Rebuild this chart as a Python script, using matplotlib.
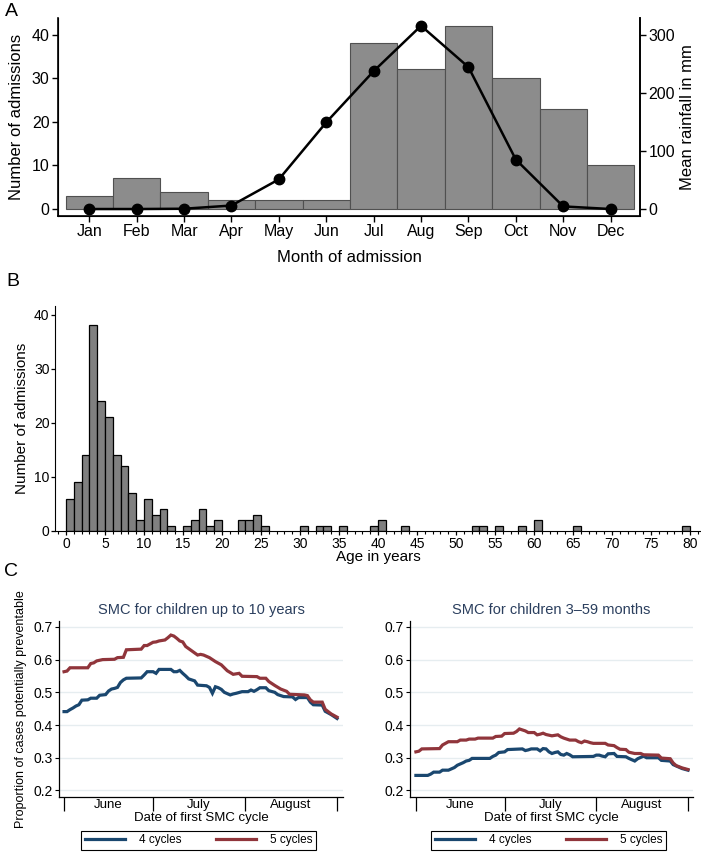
import matplotlib
matplotlib.use("Agg")
import matplotlib.pyplot as plt
from matplotlib.lines import Line2D
from matplotlib.ticker import MultipleLocator, FixedLocator

plt.rcParams['font.family'] = ['Liberation Sans', 'DejaVu Sans']

# ---------------- data ----------------
months = ["Jan", "Feb", "Mar", "Apr", "May", "Jun", "Jul", "Aug", "Sep", "Oct", "Nov", "Dec"]
admissions_by_month = [3, 7, 4, 2, 2, 2, 38, 32, 42, 30, 23, 10]
rainfall_mm = [0, 0, 0.5, 6, 51, 149, 237, 315, 244, 85, 4.5, 0]

age_bins = [0, 1, 2, 3, 4, 5, 6, 7, 8, 9, 10, 11, 12, 13, 15, 16, 17, 18, 19,
            22, 23, 24, 25, 30, 32, 33, 35, 39, 40, 43, 52, 53, 55, 58, 60, 65, 79]
age_counts = [6, 9, 14, 38, 24, 21, 14, 12, 7, 2, 6, 3, 4, 1, 1, 2, 4, 1, 2,
              2, 2, 3, 1, 1, 1, 1, 1, 1, 2, 1, 1, 1, 1, 1, 2, 1, 1]

# Panel C: day index from 1 June
c1_4_days = [0, 1, 2, 3, 4, 5, 6, 8, 9, 11, 12, 14, 15, 16, 17, 18, 19, 20, 21, 26, 27, 28, 30, 31, 32, 36,
             37, 38, 39, 40, 41, 42, 44, 45, 48, 49, 50, 51, 52, 53, 54, 55, 56, 57, 58, 60, 62, 63, 64,
             65, 66, 68, 69, 71, 72, 73, 74, 77, 78, 79, 82, 83, 84, 87, 88, 90, 92]
c1_4_vals = [0.441, 0.441, 0.447, 0.452, 0.458, 0.462, 0.476, 0.477, 0.482, 0.482, 0.491, 0.493, 0.504,
             0.510, 0.512, 0.515, 0.530, 0.538, 0.543, 0.544, 0.553, 0.563, 0.563, 0.558, 0.570, 0.570,
             0.563, 0.563, 0.567, 0.558, 0.550, 0.541, 0.535, 0.522, 0.520, 0.515, 0.497, 0.517, 0.514,
             0.509, 0.500, 0.496, 0.492, 0.495, 0.497, 0.502, 0.502, 0.507, 0.503, 0.508, 0.514, 0.514,
             0.505, 0.500, 0.493, 0.490, 0.487, 0.486, 0.478, 0.484, 0.484, 0.470, 0.462, 0.461, 0.442,
             0.432, 0.420]
c1_5_days = [0, 1, 2, 8, 9, 10, 11, 13, 17, 18, 20, 21, 26, 27, 28, 30, 31, 32, 34, 35, 36, 37, 38, 39,
             40, 41, 43, 45, 46, 47, 49, 51, 53, 55, 57, 59, 60, 65, 66, 68, 69, 71, 73, 75, 76, 81, 82,
             83, 84, 87, 88, 90, 92]
c1_5_vals = [0.563, 0.565, 0.575, 0.575, 0.588, 0.590, 0.596, 0.600, 0.601, 0.606, 0.607, 0.630, 0.632,
             0.643, 0.643, 0.653, 0.654, 0.657, 0.660, 0.667, 0.675, 0.672, 0.665, 0.657, 0.654, 0.640,
             0.627, 0.614, 0.616, 0.614, 0.606, 0.594, 0.584, 0.566, 0.555, 0.558, 0.549, 0.548, 0.543,
             0.543, 0.533, 0.521, 0.510, 0.503, 0.494, 0.492, 0.490, 0.477, 0.470, 0.470, 0.448, 0.434,
             0.424]
c2_4_days = [0, 4, 5, 6, 8, 9, 11, 12, 13, 14, 15, 16, 17, 18, 19, 25, 26, 27, 28, 30, 31, 36, 37, 38,
             39, 41, 42, 43, 44, 45, 46, 47, 48, 49, 50, 51, 52, 53, 60, 61, 62, 63, 64, 65, 67, 68, 71,
             72, 73, 74, 75, 76, 77, 78, 82, 83, 86, 87, 88, 90, 92]
c2_4_vals = [0.246, 0.246, 0.250, 0.256, 0.256, 0.262, 0.262, 0.266, 0.270, 0.277, 0.281, 0.285, 0.290,
             0.292, 0.298, 0.298, 0.304, 0.308, 0.316, 0.318, 0.325, 0.327, 0.322, 0.324, 0.327, 0.327,
             0.321, 0.328, 0.327, 0.318, 0.313, 0.316, 0.318, 0.310, 0.308, 0.313, 0.309, 0.303, 0.304,
             0.308, 0.308, 0.305, 0.303, 0.312, 0.313, 0.304, 0.303, 0.298, 0.294, 0.290, 0.297, 0.301,
             0.305, 0.300, 0.300, 0.292, 0.290, 0.279, 0.275, 0.267, 0.262]
c2_5_days = [0, 1, 2, 8, 9, 10, 11, 14, 15, 17, 18, 20, 21, 26, 27, 29, 30, 33, 34, 35, 36, 37, 38, 40,
             41, 42, 43, 44, 46, 48, 49, 50, 52, 54, 55, 56, 57, 58, 59, 60, 64, 65, 67, 68, 69, 71, 72,
             74, 76, 77, 82, 83, 86, 87, 88, 90, 92]
c2_5_vals = [0.318, 0.320, 0.327, 0.328, 0.339, 0.344, 0.349, 0.349, 0.354, 0.354, 0.357, 0.357, 0.360,
             0.360, 0.365, 0.366, 0.374, 0.375, 0.380, 0.388, 0.385, 0.382, 0.377, 0.377, 0.370, 0.372,
             0.375, 0.371, 0.367, 0.370, 0.364, 0.360, 0.354, 0.354, 0.349, 0.346, 0.351, 0.349, 0.346,
             0.344, 0.344, 0.339, 0.337, 0.331, 0.326, 0.325, 0.317, 0.313, 0.313, 0.309, 0.308, 0.299,
             0.297, 0.284, 0.276, 0.269, 0.264]

month_boundaries = [0, 30, 61, 92]
month_centers = [15, 45.5, 76.5]
month_names = ["June", "July", "August"]
c_titles = ["SMC for children up to 10 years", "SMC for children 3\u201359 months"]
series_labels = ["4 cycles", "5 cycles"]

BLUE = "#1a476f"
RED = "#90353b"
TITLE_C = "#2b3f5e"
GRID = "#e6edf0"

W, H = 701, 852
fig = plt.figure(figsize=(W / 100, H / 100), dpi=100)


def fx(px):
    return px / W


def fy(py):
    return 1 - py / H


def axes_px(l, t, r, b):
    return fig.add_axes([fx(l), fy(b), (r - l) / W, (b - t) / H])


# ---------------- Panel A ----------------
axA = axes_px(58, 18, 640, 216)
x_month = list(range(1, 13))
axA.bar(x_month, admissions_by_month, width=1.0, color="#8c8c8c", edgecolor="#505050", linewidth=0.8, zorder=2)
axA.set_xlim(0.34, 12.62)
axA.set_ylim(-1.6, 43.8)
axA.set_xticks(x_month)
axA.set_xticklabels(months)
axA.set_yticks([0, 10, 20, 30, 40])
axA.spines["top"].set_visible(False)
for s in ["left", "bottom", "right"]:
    axA.spines[s].set_linewidth(1.2)
axA.tick_params(axis="both", labelsize=11.5, length=4, width=1.0, pad=2)

axA2 = axA.twinx()
axA2.plot(x_month, rainfall_mm, color="black", linewidth=1.8, marker="o", markersize=7.5, zorder=3)
axA2.set_ylim(-12.0, 328.4)
axA2.set_yticks([0, 100, 200, 300])
axA2.spines["top"].set_visible(False)
axA2.spines["right"].set_linewidth(1.2)
axA2.tick_params(axis="y", labelsize=11.5, length=4, width=1.0, pad=2)

fig.text(fx(17), fy(117), "Number of admissions", rotation=90, ha="center", va="center", fontsize=12)
fig.text(fx(688), fy(117), "Mean rainfall in mm", rotation=90, ha="center", va="center", fontsize=12)
fig.text(fx(349), fy(258), "Month of admission", ha="center", va="center", fontsize=12)

# ---------------- Panel B ----------------
axB = axes_px(55, 306, 700, 531)
axB.bar(age_bins, age_counts, width=1.0, align="edge", color="#808080", edgecolor="black", linewidth=0.9)
axB.set_xlim(-1.41, 81.28)
axB.set_ylim(0, 41.6)
axB.xaxis.set_major_locator(MultipleLocator(5))
axB.xaxis.set_minor_locator(MultipleLocator(1))
axB.set_yticks([0, 10, 20, 30, 40])
axB.spines["top"].set_visible(False)
axB.spines["right"].set_visible(False)
axB.tick_params(axis="both", which="major", labelsize=10, length=3, width=0.9, pad=1)
axB.tick_params(axis="x", which="minor", length=2, width=0.8)
fig.text(fx(22), fy(418), "Number of admissions", rotation=90, ha="center", va="center", fontsize=11)
fig.text(fx(378), fy(557), "Age in years", ha="center", va="center", fontsize=11)

# ---------------- Panel C ----------------
c_series = [
    (c1_4_days, c1_4_vals, c1_5_days, c1_5_vals),
    (c2_4_days, c2_4_vals, c2_5_days, c2_5_vals),
]
c_boxes = [(59, 621, 343, 797, -1.7, 94.0), (410, 621, 693, 797, -2.0, 93.7)]
legend_centers = [198.5, 548.5]
for i in range(2):
    l, t, r, b, x0, x1 = c_boxes[i]
    ax = axes_px(l, t, r, b)
    d4, v4, d5, v5 = c_series[i]
    ax.plot(d4, v4, color=BLUE, linewidth=2.3, solid_joinstyle="miter")
    ax.plot(d5, v5, color=RED, linewidth=2.3, solid_joinstyle="miter")
    ax.set_xlim(x0, x1)
    ax.set_ylim(0.180, 0.718)
    ax.set_yticks([0.2, 0.3, 0.4, 0.5, 0.6, 0.7])
    ax.set_yticklabels(["0.2", "0.3", "0.4", "0.5", "0.6", "0.7"])
    ax.yaxis.grid(True, color=GRID, linewidth=1.0)
    ax.set_axisbelow(True)
    ax.xaxis.set_major_locator(FixedLocator(month_boundaries))
    ax.xaxis.set_minor_locator(FixedLocator(month_centers))
    ax.set_xticklabels([])
    ax.set_xticklabels(month_names, minor=True)
    ax.tick_params(axis="x", which="major", length=10, width=0.9)
    ax.tick_params(axis="x", which="minor", length=0, labelsize=9.5, pad=1.5)
    ax.tick_params(axis="y", labelsize=10, length=3, width=0.8, pad=1.5)
    ax.spines["top"].set_visible(False)
    ax.spines["right"].set_visible(False)
    for s in ["left", "bottom"]:
        ax.spines[s].set_linewidth(0.9)
    cx = (l + r) / 2
    fig.text(fx(cx), fy(610), c_titles[i], ha="center", va="center", fontsize=10.5, color=TITLE_C)
    fig.text(fx(cx), fy(818), "Date of first SMC cycle", ha="center", va="center", fontsize=9.5)
    handles = [Line2D([], [], color=BLUE, linewidth=2.3), Line2D([], [], color=RED, linewidth=2.3)]
    leg = fig.legend(handles, series_labels, loc="center", bbox_to_anchor=(fx(legend_centers[i]), fy(840.5)),
                     ncol=2, frameon=True, fancybox=False, edgecolor="black", fontsize=8.5,
                     handlelength=3.4, columnspacing=2.9, handletextpad=1.2, borderpad=0.3, framealpha=1)
    leg.get_frame().set_linewidth(0.8)

fig.text(fx(21), fy(709), "Proportion of cases potentially preventable", rotation=90, ha="center",
         va="center", fontsize=9)

fig.text(fx(5), fy(12), "A", ha="left", va="center", fontsize=14)
fig.text(fx(6), fy(282), "B", ha="left", va="center", fontsize=14)
fig.text(fx(4), fy(572), "C", ha="left", va="center", fontsize=14)

fig.savefig("out.png", dpi=100)
